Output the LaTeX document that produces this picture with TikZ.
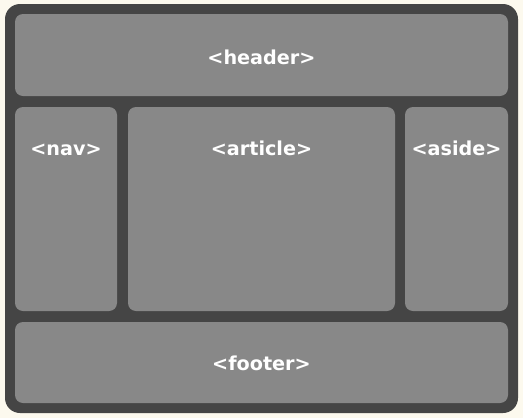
\documentclass[tikz,border=0pt]{standalone}
\usepackage{fontspec}
\setmainfont{DejaVu Sans}
\definecolor{bgc}{HTML}{FCF9EE}
\definecolor{framec}{HTML}{454545}
\definecolor{boxc}{HTML}{888888}
\begin{document}
\begin{tikzpicture}[x=1pt,y=-1pt,
  region/.style={fill=boxc, rounded corners=8pt},
  lbl/.style={text=white, font=\fontsize{19.2}{21}\selectfont\bfseries, anchor=base, inner sep=0pt}]
\fill[bgc] (0,0) rectangle (523,418);
\useasboundingbox (0,0) rectangle (523,418);
\fill[framec, rounded corners=15pt] (5,4) rectangle (518,413);
\fill[region] (15,14) rectangle (508,96);
\fill[region] (15,107) rectangle (117,311);
\fill[region] (128,107) rectangle (395,311);
\fill[region] (405,107) rectangle (508,311);
\fill[region] (15,322) rectangle (508,403);
\node[lbl] (header) at (261.5,64) {<header>};
\node[lbl] (nav) at (66,155) {<nav>};
\node[lbl] (article) at (261.5,155) {<article>};
\node[lbl] (aside) at (456.5,155) {<aside>};
\node[lbl] (footer) at (261.5,370) {<footer>};
\end{tikzpicture}
\end{document}
